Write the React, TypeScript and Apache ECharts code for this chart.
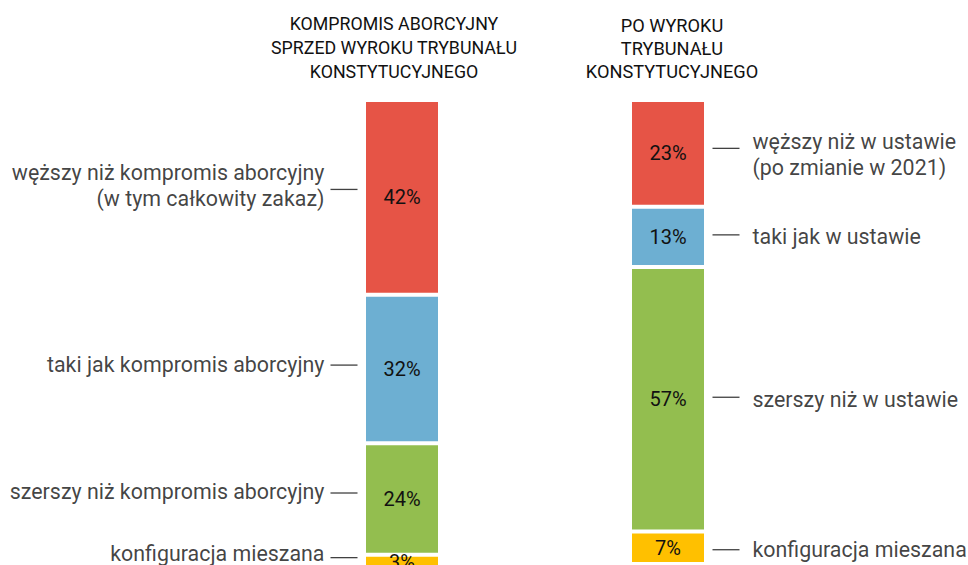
import React, { useEffect, useRef } from "react";
import * as echarts from "echarts";

const categories = [
  "KOMPROMIS ABORCYJNY\nSPRZED WYROKU TRYBUNAŁU\nKONSTYTUCYJNEGO",
  "PO WYROKU\nTRYBUNAŁU\nKONSTYTUCYJNEGO",
];
const seriesNames = ["węższy", "taki jak", "szerszy", "konfiguracja mieszana"];
const valuesWezszy = [42, 23];
const valuesTaki = [32, 13];
const valuesSzerszy = [24, 57];
const valuesMieszana = [3, 7];
const colors = ["#E65446", "#6DAFD2", "#93BE4F", "#FFC000"];
const leftLabels = [
  "węższy niż kompromis aborcyjny\n(w tym całkowity zakaz)",
  "taki jak kompromis aborcyjny",
  "szerszy niż kompromis aborcyjny",
  "konfiguracja mieszana",
];
const rightLabels = [
  "węższy niż w ustawie\n(po zmianie w 2021)",
  "taki jak w ustawie",
  "szerszy niż w ustawie",
  "konfiguracja mieszana",
];

// layout nudges (pixels) for the side annotations
const leftTextDy = [-12, -5, -8, -8];
const leftLineDy = [-8, -4, -6, -4];
const rightTextDy = [1, 0, 0, 2];
const rightLineDy = [-5, -2, -2, 2];

const FONT = "Roboto, 'Noto Sans', sans-serif";
const TEXT = "#111111";

export default function App() {
  const ref = useRef<HTMLDivElement>(null);
  useEffect(() => {
    if (!ref.current) return;
    const chart = echarts.init(ref.current, undefined, { renderer: "svg" });
    const allValues = [valuesWezszy, valuesTaki, valuesSzerszy, valuesMieszana];

    const mids: number[][] = allValues.map(() => [0, 0]);
    for (let c = 0; c < 2; c++) {
      let cum = 0;
      for (let s = 0; s < allValues.length; s++) {
        mids[s][c] = cum + allValues[s][c] / 2;
        cum += allValues[s][c];
      }
    }

    const barSeries = allValues.map((vals, i) => ({
      type: "bar",
      name: seriesNames[i],
      stack: "total",
      barWidth: 76,
      data: vals,
      itemStyle: { color: colors[i], borderColor: "#ffffff", borderWidth: 2 },
      label: {
        show: true,
        position: "inside",
        formatter: (p: any) => `${p.value}%`,
        color: TEXT,
        fontSize: 20,
        fontFamily: FONT,
      },
      silent: true,
    }));

    const lineData: any[] = [];
    const textData: any[] = [];
    for (let s = 0; s < allValues.length; s++) {
      lineData.push({ value: [0, mids[s][0]], symbolOffset: [-58, leftLineDy[s]] });
      lineData.push({ value: [1, mids[s][1]], symbolOffset: [58, rightLineDy[s]] });
      textData.push({
        value: [0, mids[s][0]],
        label: {
          position: "left",
          distance: 77,
          formatter: leftLabels[s],
          align: "right",
          offset: [0, leftTextDy[s]],
        },
      });
      textData.push({
        value: [1, mids[s][1]],
        label: {
          position: "right",
          distance: 84,
          formatter: rightLabels[s],
          align: "left",
          offset: [0, rightTextDy[s]],
        },
      });
    }

    chart.setOption({
      animation: false,
      grid: { left: 269, width: 532, top: 100, height: 468.6 },
      xAxis: {
        type: "category",
        data: categories,
        position: "top",
        axisLine: { show: false },
        axisTick: { show: false },
        axisLabel: {
          margin: 17,
          interval: 0,
          formatter: (val: string, idx: number) =>
            val
              .split("\n")
              .map((l) => `{${idx === 0 ? "l" : "r"}|${l}}`)
              .join("\n"),
          rich: {
            l: { fontSize: 17.8, lineHeight: 24, color: TEXT, fontFamily: FONT, padding: [0, 16, 0, 0] },
            r: { fontSize: 18.2, lineHeight: 23, color: TEXT, fontFamily: FONT, padding: [0, 0, 0, 8] },
          },
        },
      },
      yAxis: {
        type: "value",
        inverse: true,
        min: 0,
        max: 101,
        show: false,
      },
      series: [
        ...barSeries,
        {
          type: "scatter",
          symbol: "rect",
          symbolSize: [27, 1.3],
          itemStyle: { color: TEXT },
          data: lineData,
          silent: true,
          z: 5,
        },
        {
          type: "scatter",
          symbolSize: 1,
          itemStyle: { color: "transparent" },
          data: textData,
          silent: true,
          label: {
            show: true,
            color: TEXT,
            fontSize: 21.4,
            lineHeight: 26,
            fontFamily: FONT,
          },
          z: 5,
        },
      ],
    });
    return () => chart.dispose();
  }, []);
  return (
    <div
      ref={ref}
      style={{ position: "fixed", left: 0, top: 0, width: 968, height: 600, background: "#fff" }}
    />
  );
}
